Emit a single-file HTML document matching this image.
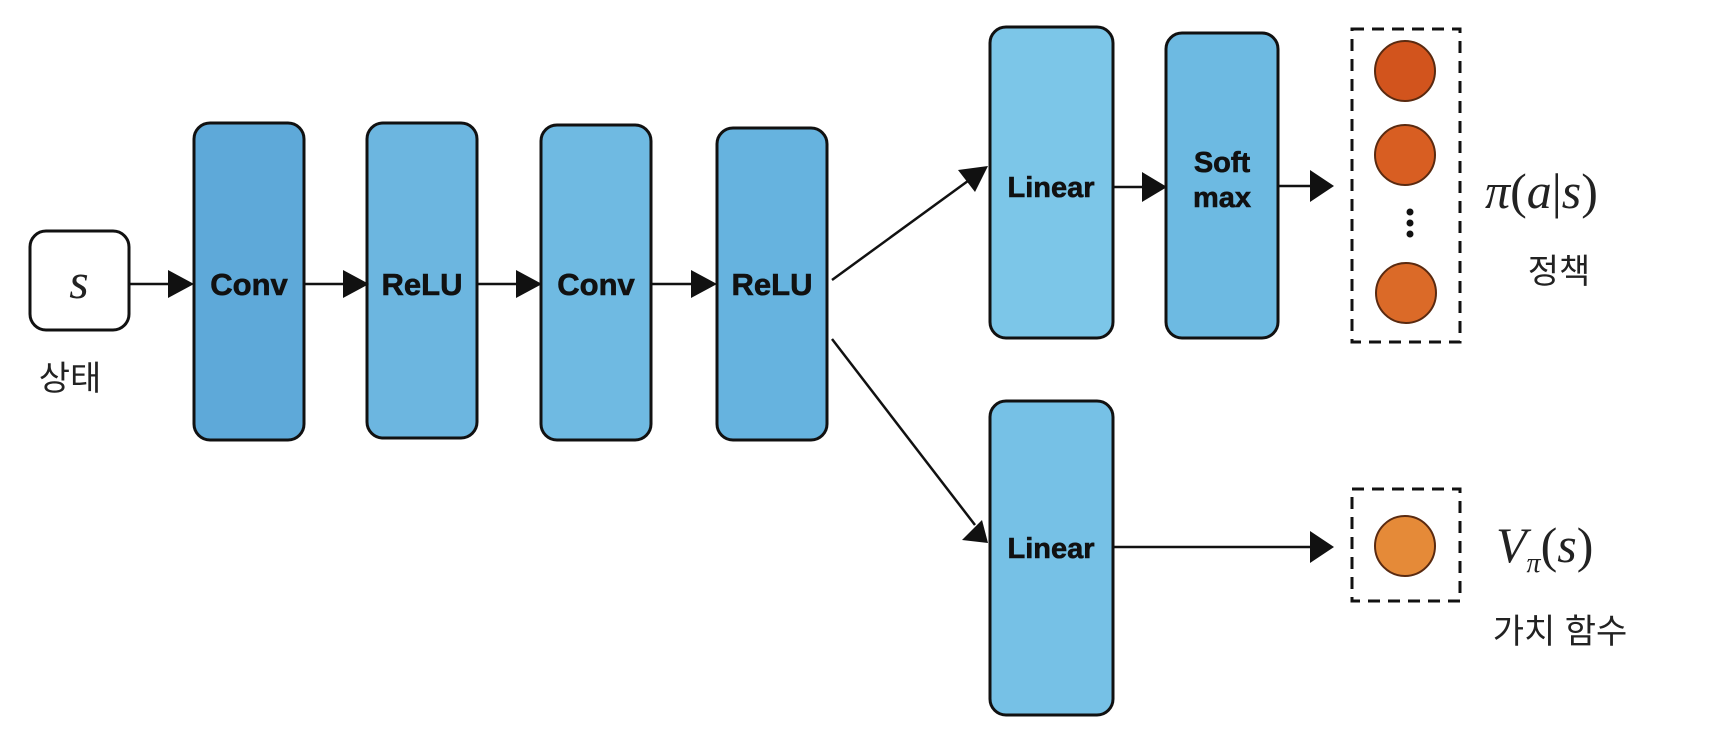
<!DOCTYPE html>
<html><head><meta charset="utf-8">
<style>
html,body{margin:0;padding:0;background:#fff;}
svg{display:block;}
.lbl{font-family:"Liberation Sans",Arial,sans-serif;font-weight:900;font-size:31px;fill:#111;text-anchor:middle;stroke:#111;stroke-width:0.6;}
.kr{font-family:"Liberation Sans","Noto Sans CJK KR",sans-serif;font-size:34px;fill:#222;text-anchor:middle;}
.math{font-family:"Liberation Serif","DejaVu Serif",serif;font-size:50px;fill:#222;}
</style></head><body>
<svg width="1717" height="754" viewBox="0 0 1717 754" xmlns="http://www.w3.org/2000/svg">
<g stroke="#111" stroke-width="3">
<rect x="30" y="231" width="99" height="99" rx="16" fill="#fff"/>
<rect x="194" y="123" width="110" height="317" rx="16" fill="#5ea9d9"/>
<rect x="367" y="123" width="110" height="315" rx="16" fill="#6cb6e0"/>
<rect x="541" y="125" width="110" height="315" rx="16" fill="#6fbae2"/>
<rect x="717" y="128" width="110" height="312" rx="16" fill="#66b3df"/>
<rect x="990" y="27" width="123" height="311" rx="16" fill="#7cc6e8"/>
<rect x="1166" y="33" width="112" height="305" rx="16" fill="#6dbae2"/>
<rect x="990" y="401" width="123" height="314" rx="16" fill="#76c1e6"/>
</g>
<g stroke="#111" stroke-width="3" fill="none" stroke-dasharray="12,8">
<rect x="1352" y="29" width="108" height="313"/>
<rect x="1352" y="489" width="108" height="112"/>
</g>
<g stroke="#111" stroke-width="2.5" fill="none">
<line x1="129" y1="284" x2="170" y2="284"/>
<line x1="304" y1="284" x2="345" y2="284"/>
<line x1="477" y1="284" x2="518" y2="284"/>
<line x1="651" y1="284" x2="693" y2="284"/>
<line x1="832" y1="280" x2="972" y2="178"/>
<line x1="832" y1="339" x2="975" y2="525"/>
<line x1="1113" y1="187" x2="1145" y2="187"/>
<line x1="1278" y1="186" x2="1312" y2="186"/>
<line x1="1113" y1="547" x2="1312" y2="547"/>
</g>
<g fill="#111">
<polygon points="168,270 194,284 168,298"/>
<polygon points="343,270 369,284 343,298"/>
<polygon points="516,270 542,284 516,298"/>
<polygon points="691,270 717,284 691,298"/>
<polygon points="1142,172 1167,187 1142,202"/>
<polygon points="1310,170 1334,186 1310,202"/>
<polygon points="1310,531 1334,547 1310,563"/>
<polygon points="988,166 958,170 975,192"/>
<polygon points="988,543 962,540 982,520"/>
</g>
<g stroke="#5a2a10" stroke-width="2">
<circle cx="1405" cy="71" r="30" fill="#d2541d"/>
<circle cx="1405" cy="155" r="30" fill="#d85e22"/>
<circle cx="1406" cy="293" r="30" fill="#db6a28"/>
<circle cx="1405" cy="546" r="30" fill="#e58a38"/>
</g>
<g fill="#111">
<circle cx="1410" cy="212" r="3.5"/><circle cx="1410" cy="223" r="3.5"/><circle cx="1410" cy="234" r="3.5"/>
</g>
<text x="79" y="298" class="math" font-style="italic" text-anchor="middle">s</text>
<text x="249" y="295" class="lbl">Conv</text>
<text x="422" y="295" class="lbl">ReLU</text>
<text x="596" y="295" class="lbl">Conv</text>
<text x="772" y="295" class="lbl">ReLU</text>
<text x="1051" y="197" class="lbl" style="font-size:29px">Linear</text>
<text x="1222" y="172" class="lbl" style="font-size:29px">Soft</text>
<text x="1222" y="207" class="lbl" style="font-size:29px">max</text>
<text x="1051" y="558" class="lbl" style="font-size:29px">Linear</text>
<text x="70" y="390" class="kr">상태</text>
<text x="1559" y="283" class="kr">정책</text>
<text x="1560" y="643" class="kr">가치 함수</text>
<text x="1485" y="208" class="math"><tspan font-style="italic">π</tspan>(<tspan font-style="italic">a</tspan>|<tspan font-style="italic">s</tspan>)</text>
<text x="1496" y="562" class="math"><tspan font-style="italic">V</tspan><tspan font-size="28" dy="10" font-style="italic">π</tspan><tspan dy="-10">(</tspan><tspan font-style="italic">s</tspan>)</text>
</svg>
</body></html>
